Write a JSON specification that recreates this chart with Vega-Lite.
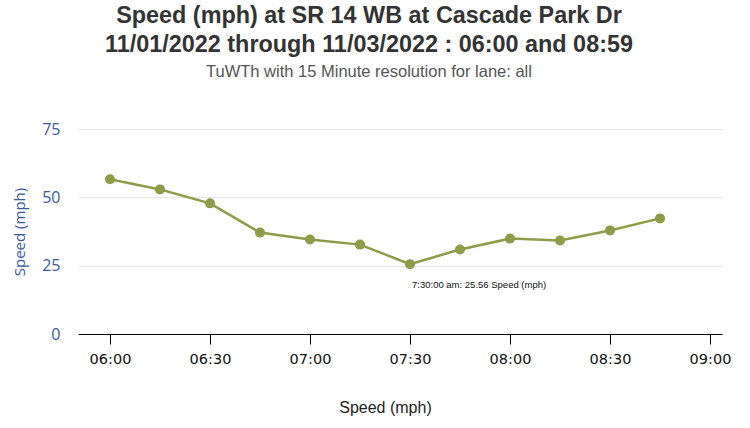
{
  "$schema": "https://vega.github.io/schema/vega-lite/v6.json",
  "width": 644,
  "height": 205,
  "autosize": {"type": "none"},
  "padding": {"left": 78, "top": 129, "right": 28, "bottom": 94},
  "background": "white",
  "title": {
    "text": ["Speed (mph) at SR 14 WB at Cascade Park Dr", "11/01/2022 through 11/03/2022 : 06:00 and 08:59"],
    "subtitle": "TuWTh with 15 Minute resolution for lane: all",
    "anchor": "middle",
    "dx": -31,
    "offset": 40,
    "font": "Liberation Sans",
    "fontSize": 23.4,
    "fontWeight": "bold",
    "color": "#333333",
    "lineHeight": 29,
    "subtitleFont": "Liberation Sans",
    "subtitleFontSize": 16.5,
    "subtitleColor": "#555555",
    "subtitlePadding": 6
  },
  "datasets": {
    "speeds": [
      {"t": "2022-11-01T06:00:00", "speed": 56.6},
      {"t": "2022-11-01T06:15:00", "speed": 52.9},
      {"t": "2022-11-01T06:30:00", "speed": 47.8},
      {"t": "2022-11-01T06:45:00", "speed": 37.1},
      {"t": "2022-11-01T07:00:00", "speed": 34.6},
      {"t": "2022-11-01T07:15:00", "speed": 32.7},
      {"t": "2022-11-01T07:30:00", "speed": 25.56},
      {"t": "2022-11-01T07:45:00", "speed": 30.9},
      {"t": "2022-11-01T08:00:00", "speed": 34.9},
      {"t": "2022-11-01T08:15:00", "speed": 34.2},
      {"t": "2022-11-01T08:30:00", "speed": 37.9},
      {"t": "2022-11-01T08:45:00", "speed": 42.3}
    ],
    "annot": [
      {"t": "2022-11-01T07:30:00", "speed": 25.56, "label": "7:30:00 am: 25.56 Speed (mph)"}
    ]
  },
  "encoding": {
    "x": {
      "field": "t",
      "type": "temporal",
      "title": "Speed (mph)",
      "scale": {
        "domain": [
          {"year": 2022, "month": 11, "date": 1, "hours": 5, "minutes": 50, "seconds": 24},
          {"year": 2022, "month": 11, "date": 1, "hours": 9, "minutes": 3, "seconds": 36}
        ]
      },
      "axis": {
        "values": [
          {"year": 2022, "month": 11, "date": 1, "hours": 6, "minutes": 0},
          {"year": 2022, "month": 11, "date": 1, "hours": 6, "minutes": 30},
          {"year": 2022, "month": 11, "date": 1, "hours": 7, "minutes": 0},
          {"year": 2022, "month": 11, "date": 1, "hours": 7, "minutes": 30},
          {"year": 2022, "month": 11, "date": 1, "hours": 8, "minutes": 0},
          {"year": 2022, "month": 11, "date": 1, "hours": 8, "minutes": 30},
          {"year": 2022, "month": 11, "date": 1, "hours": 9, "minutes": 0}
        ],
        "format": "%H:%M",
        "grid": false,
        "domainColor": "#000000",
        "domainWidth": 1,
        "tickColor": "#000000",
        "tickSize": 10,
        "labelFont": "DejaVu Sans",
        "labelFontSize": 14.5,
        "labelColor": "#111111",
        "labelPadding": 8,
        "titleFont": "Liberation Sans",
        "titleFontSize": 16,
        "titleFontWeight": "normal",
        "titleColor": "#222222",
        "titlePadding": 34,
        "titleX": 307
      }
    },
    "y": {
      "field": "speed",
      "type": "quantitative",
      "title": "Speed (mph)",
      "scale": {"domain": [0, 75], "nice": false},
      "axis": {
        "values": [0, 25, 50, 75],
        "domain": false,
        "ticks": false,
        "gridColor": "#e6e6e6",
        "gridWidth": 1,
        "labelFont": "Open Sans",
        "labelFontSize": 16,
        "labelColor": "#3a5a9a",
        "labelPadding": 18,
        "titleFont": "Open Sans",
        "titleFontSize": 15,
        "titleFontWeight": "normal",
        "titleColor": "#3a5a9a",
        "titlePadding": 14
      }
    }
  },
  "layer": [
    {
      "data": {"name": "speeds"},
      "mark": {"type": "line", "color": "#8c9c48", "strokeWidth": 2.5}
    },
    {
      "data": {"name": "speeds"},
      "mark": {"type": "point", "filled": true, "color": "#8c9c48", "size": 100, "opacity": 1}
    },
    {
      "data": {"name": "annot"},
      "mark": {"type": "text", "align": "left", "baseline": "middle", "dx": 2, "dy": 21, "font": "Liberation Sans", "fontSize": 9.5, "color": "#111111"},
      "encoding": {"text": {"field": "label"}}
    }
  ],
  "config": {"view": {"stroke": null}}
}
